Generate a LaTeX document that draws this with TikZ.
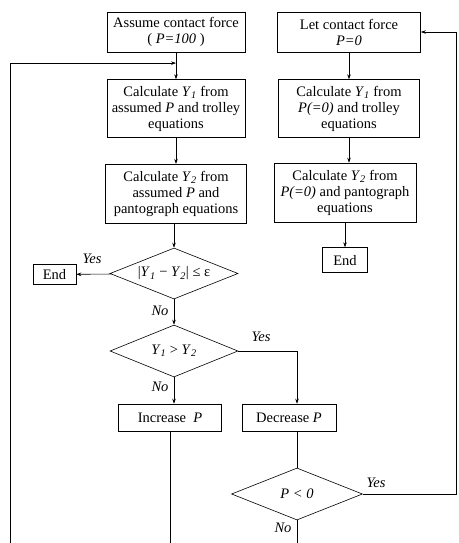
\documentclass[tikz,border=0pt]{standalone}
\usepackage{fontspec}
\setmainfont{Liberation Serif}
\usepackage{tikz}
\usetikzlibrary{shapes.geometric, arrows.meta, positioning, calc}
\tikzstyle{arrow} = [line width=0.6pt, -{Stealth[length=5pt, width=3.5pt]}]

\newcommand{\Yone}{\textit{Y}\textsubscript{\textit{1}}}
\newcommand{\Ytwo}{\textit{Y}\textsubscript{\textit{2}}}

\begin{document}
\begin{tikzpicture}[
	x=1pt, y=-1pt,
	font=\fontsize{14.5}{16}\selectfont,
	box/.style={rectangle, draw, line width=0.6pt, align=center, inner sep=2pt},
	decision/.style={diamond, draw, line width=0.6pt, inner sep=0pt, aspect=2.5},
	tag/.style={font=\fontsize{14.5}{16}\selectfont\itshape},
	line/.style={line width=0.6pt}
]
\useasboundingbox (0,0) rectangle (458,543);

% Assumed contact force branch
\node[box, minimum width=138pt, minimum height=40pt] (A) at (176,32) {Assume contact force\\( \textit{P=100} )};
\node[box, minimum width=138pt, minimum height=58pt] (C1) [below=27pt of A] {Calculate \Yone{} from\\assumed \textit{P} and trolley\\equations};
\node[box, minimum width=141pt, minimum height=59pt] (C2) [below=26pt of C1] {Calculate \Ytwo{} from\\assumed \textit{P} and\\pantograph equations};

% Decisions
\node[decision, minimum width=128pt, minimum height=51pt] (d1) at (174,273.5) {|\Yone{} − \Ytwo| ≤ ε};
\node[box, minimum width=43pt, minimum height=20pt, inner sep=1pt] (E1) at (54.5,274.5) {End};
\node[decision, minimum width=128pt, minimum height=52pt] (d2) at (174,351) {\Yone{} > \Ytwo};

\node[box, minimum width=103pt, minimum height=27pt] (Inc) at (170,417.5) {Increase \ \textit{P}};
\node[box, minimum width=94pt, minimum height=27pt] (Dec) at (289,417.5) {Decrease \textit{P}};
\node[decision, minimum width=131pt, minimum height=52pt] (d3) at (297,494) {\textit{P < 0}};

% Zero contact force branch
\node[box, minimum width=143pt, minimum height=40pt] (B) at (349,32) {Let contact force\\\textit{P=0}};
\node[box, minimum width=141pt, minimum height=58pt] (D1) [below=27pt of B] {Calculate \Yone{} from\\\textit{P(=0)} and trolley\\equations};
\node[box, minimum width=142pt, minimum height=59pt] (D2) at (345,192.5) {Calculate \Ytwo{} from\\\textit{P(=0)} and pantograph\\equations};
\node[box, minimum width=45pt, minimum height=25pt] (E2) [below=25pt of D2] {End};

% Labels
\node[tag] (yes1) at (92,259) {Yes};
\node[tag] (no1) at (160,311) {No};
\node[tag] (yes2) at (261,337) {Yes};
\node[tag] (no2) at (160,387) {No};
\node[tag] (yes3) at (376,483) {Yes};
\node[tag] (no3) at (283,528) {No};

% Loop points
\coordinate (J) at ($(A.south)!0.4!(C1.north)$);
\coordinate (LB) at (10,543);
\coordinate (RT) at (456,32);
\coordinate (IB) at (170,543);
\coordinate (NB) at (297,543);

\draw[line] (A) -- (J);
\draw[arrow] (J) -- (C1);
\draw[arrow] (LB) |- (J);
\draw[arrow] (C1) -- (C2);
\draw[arrow] (C2.south -| d1.north) -- (d1.north);
\draw[arrow] (d1) -- (E1);
\draw[arrow] (d1) -- (d2);
\draw[arrow] (d2.south) -- (d2.south |- Inc.north);
\draw[arrow] (d2.east) -| (d3.north |- Dec.north);
\draw[line] (d3.north |- Dec.south) -- (d3.north);
\draw[line] (Inc.south) -- (IB);
\draw[line] (d3.south) -- (NB);
\draw[arrow] (d3.east) -| (RT) -- (B.east);

\draw[arrow] (B) -- (D1);
\draw[arrow] (D1.south) -- (D1.south |- D2.north);
\draw[arrow] (D2) -- (E2);
\end{tikzpicture}
\end{document}
